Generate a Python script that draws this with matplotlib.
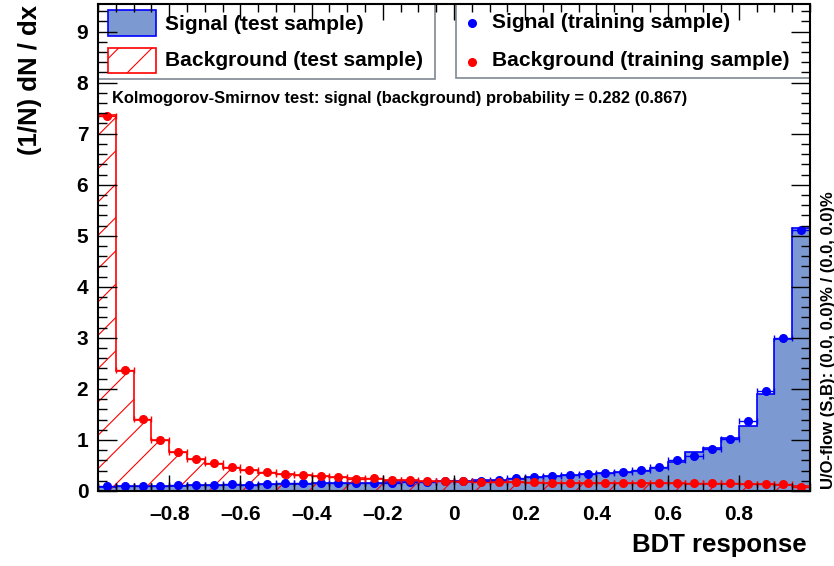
import numpy as np
import matplotlib
matplotlib.use("Agg")
import matplotlib.pyplot as plt
from matplotlib.patches import Rectangle
from matplotlib.lines import Line2D
from matplotlib.ticker import MultipleLocator

plt.rcParams['font.family'] = ['Liberation Sans', 'DejaVu Sans']
plt.rcParams['font.weight'] = 'bold'
plt.rcParams['hatch.linewidth'] = 0.8

# 40 bins of BDT response from -1 to 1
edges = np.linspace(-1.0, 1.0, 41)
centers = 0.5 * (edges[1:] + edges[:-1])

sig_test = [0.08, 0.09, 0.09, 0.10, 0.10, 0.11, 0.11, 0.12, 0.12, 0.13,
            0.14, 0.14, 0.15, 0.15, 0.16, 0.16, 0.17, 0.18, 0.18, 0.19,
            0.20, 0.21, 0.22, 0.24, 0.27, 0.29, 0.31, 0.33, 0.35, 0.37,
            0.40, 0.46, 0.56, 0.76, 0.85, 1.03, 1.28, 1.90, 2.97, 5.15]
sig_train = [0.09, 0.10, 0.10, 0.10, 0.11, 0.11, 0.12, 0.13, 0.12, 0.14,
             0.15, 0.15, 0.16, 0.15, 0.15, 0.15, 0.16, 0.17, 0.18, 0.19,
             0.19, 0.19, 0.22, 0.25, 0.28, 0.30, 0.32, 0.33, 0.36, 0.38,
             0.42, 0.47, 0.61, 0.68, 0.83, 1.02, 1.37, 1.96, 3.00, 5.11]
bkg_test = [7.37, 2.35, 1.40, 1.00, 0.76, 0.63, 0.53, 0.46, 0.41, 0.36,
            0.33, 0.31, 0.29, 0.27, 0.25, 0.24, 0.22, 0.21, 0.20, 0.19,
            0.18, 0.18, 0.17, 0.17, 0.16, 0.16, 0.16, 0.15, 0.15, 0.15,
            0.15, 0.15, 0.15, 0.14, 0.14, 0.14, 0.14, 0.13, 0.12, 0.10]
bkg_train = [7.34, 2.37, 1.41, 0.99, 0.77, 0.63, 0.54, 0.47, 0.41, 0.37,
             0.34, 0.31, 0.29, 0.28, 0.24, 0.25, 0.22, 0.21, 0.19, 0.19,
             0.19, 0.18, 0.17, 0.17, 0.17, 0.16, 0.16, 0.16, 0.16, 0.16,
             0.15, 0.15, 0.15, 0.15, 0.15, 0.15, 0.14, 0.14, 0.13, 0.08]

xtick_vals = [-0.8, -0.6, -0.4, -0.2, 0, 0.2, 0.4, 0.6, 0.8]
xtick_labels = ['\u20130.8', '\u20130.6', '\u20130.4', '\u20130.2', '0',
                '0.2', '0.4', '0.6', '0.8']

ks_text = "Kolmogorov-Smirnov test: signal (background) probability = 0.282 (0.867)"
flow_text = "U/O-flow (S,B): (0.0, 0.0)% / (0.0, 0.0)%"

W, H = 834, 566
fig = plt.figure(figsize=(W / 100, H / 100), dpi=100)

def fx(px):
    return px / W

def fy(py):
    return 1 - py / H

ax = fig.add_axes([fx(98), fy(491), fx(810) - fx(98), fy(4) - fy(491)])
ax.set_axisbelow(False)  # ticks on top of everything, like ROOT's RedrawAxis

ax.stairs(sig_test, edges, fill=True, facecolor='#7d99d1', edgecolor='none', zorder=1)
ax.stairs(sig_test, edges, color='blue', linewidth=1.2, zorder=1.2)
ax.stairs(bkg_test, edges, fill=True, facecolor='none', edgecolor='red',
          hatch='/', linewidth=0, zorder=1.4)
ax.stairs(bkg_test, edges, color='red', linewidth=1.2, zorder=1.5)

half = (edges[1] - edges[0]) / 2
ax.errorbar(centers, sig_train, xerr=half, fmt='o', color='blue', ms=5.5,
            elinewidth=1, capsize=2.5, capthick=1, zorder=1.7)
ax.errorbar(centers, bkg_train, xerr=half, fmt='o', color='red', ms=5.5,
            elinewidth=1, capsize=2.5, capthick=1, zorder=1.8)

ax.set_xlim(-1, 1)
ax.set_ylim(0, 9.54)
ax.xaxis.set_minor_locator(MultipleLocator(0.05))
ax.yaxis.set_major_locator(MultipleLocator(1))
ax.yaxis.set_minor_locator(MultipleLocator(0.2))
ax.set_xticks(xtick_vals)
ax.set_xticklabels(xtick_labels)
ax.tick_params(axis='both', which='both', direction='in', top=True, right=True,
               width=1, labelsize=15)
ax.tick_params(axis='x', which='major', length=11.5, pad=10)
ax.tick_params(axis='x', which='minor', length=5.8)
ax.tick_params(axis='y', which='major', length=13.5, pad=7)
ax.tick_params(axis='y', which='minor', length=6.5)
for s in ax.spines.values():
    s.set_linewidth(1.5)

# legend boxes drawn by hand
tf = fig.transFigure
box_kw = dict(transform=tf, clip_on=False, zorder=2)
ax.add_patch(Rectangle((fx(98), fy(79)), fx(435) - fx(98), fy(4) - fy(79),
                       facecolor='white', edgecolor='#808894', linewidth=1.2, **box_kw))
ax.add_patch(Rectangle((fx(456), fy(78)), fx(810) - fx(456), fy(4) - fy(78),
                       facecolor='white', edgecolor='#808894', linewidth=1.2, **box_kw))
entry_kw = dict(transform=tf, clip_on=False, zorder=2.1)
ax.add_patch(Rectangle((fx(108), fy(36)), fx(156) - fx(108), fy(10) - fy(36),
                       facecolor='#7d99d1', edgecolor='blue', linewidth=1.2, **entry_kw))
ax.add_patch(Rectangle((fx(108), fy(73)), fx(156) - fx(108), fy(48) - fy(73),
                       facecolor='white', edgecolor='red', hatch='/', linewidth=1.2,
                       **entry_kw))
ax.add_line(Line2D([fx(472)], [fy(23)], marker='o', color='blue', ms=5.5, **entry_kw))
ax.add_line(Line2D([fx(472)], [fy(62)], marker='o', color='red', ms=5.5, **entry_kw))
leg_fs = 15.1
fig.text(fx(165), fy(24), "Signal (test sample)", fontsize=leg_fs, va='center', zorder=12)
fig.text(fx(165), fy(61), "Background (test sample)", fontsize=leg_fs, va='center', zorder=12)
fig.text(fx(492), fy(23), "Signal (training sample)", fontsize=leg_fs, va='center', zorder=12)
fig.text(fx(492), fy(61), "Background (training sample)", fontsize=leg_fs, va='center', zorder=12)

fig.text(fx(112), fy(98), ks_text, fontsize=11.9, va='center', ha='left')
fig.text(fx(30), fy(5), "(1/N) dN / dx", fontsize=18.5, rotation=90, ha='center', va='top')
fig.text(fx(807), fy(545), "BDT response", fontsize=18.5, ha='right', va='center')
fig.text(fx(828), fy(489), flow_text, fontsize=12, rotation=90, ha='center', va='bottom')

fig.savefig("out.png", dpi=100)
